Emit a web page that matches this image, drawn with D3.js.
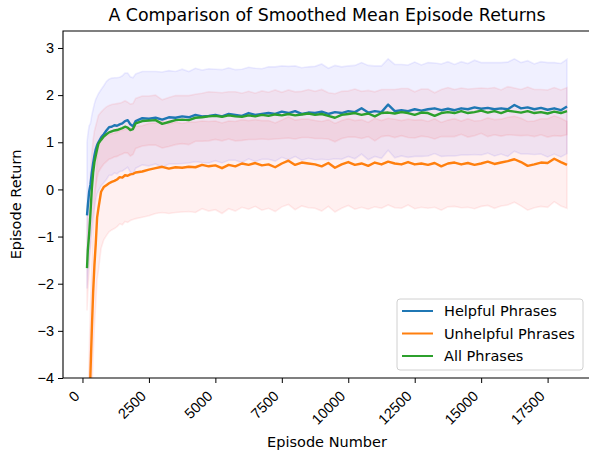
<!DOCTYPE html>
<html><head><meta charset="utf-8">
<script src="https://cdn.jsdelivr.net/npm/d3@7"></script>
<style>body{margin:0;background:#fff}svg{font-family:"DejaVu Sans",sans-serif}</style>
</head><body><svg id="c" width="589" height="453"></svg>
<script>
const episodes = [170,200,250,300,350,400,450,500,550,600,
700,800,900,1000,1100,1200,1300,1400,1500,1600,1700,1800,1900,2000,
2250,2500,2750,3000,3250,3500,3750,4000,4250,4500,4750,5000,5250,5500,5750,6000,
6250,6500,6750,7000,7250,7500,7750,8000,8250,8500,8750,9000,9250,9500,9750,10000,
10250,10500,10750,11000,11250,11500,11750,12000,12250,12500,12750,13000,13250,13500,13750,14000,
14250,14500,14750,15000,15250,15500,15750,16000,16250,16500,16750,17000,17250,17500,17750,18000,18230];

const helpfulMean = [-0.55,-0.35,-0.05,0.10,0.35,0.55,0.72,0.85,0.94,1.00,
1.10,1.17,1.25,1.32,1.33,1.36,1.35,1.38,1.40,1.45,1.47,1.38,1.34,1.45,
1.51,1.50,1.52,1.48,1.53,1.52,1.55,1.53,1.58,1.55,1.56,1.58,1.55,1.60,1.58,1.56,
1.62,1.58,1.60,1.62,1.60,1.65,1.62,1.66,1.60,1.63,1.62,1.65,1.60,1.64,1.62,1.66,
1.64,1.72,1.63,1.66,1.64,1.80,1.66,1.68,1.66,1.70,1.67,1.70,1.72,1.68,1.71,1.68,
1.72,1.70,1.74,1.71,1.73,1.70,1.72,1.70,1.79,1.72,1.74,1.70,1.73,1.69,1.72,1.68,1.76];
const helpfulStd = [1.55,1.50,1.40,1.30,1.22,1.15,1.10,1.06,1.03,1.03,
1.02,1.03,1.04,1.02,1.03,1.01,1.02,1.00,1.01,1.02,1.00,1.01,1.03,1.00,
0.99,1.00,0.98,1.01,0.99,0.98,1.00,0.97,0.99,0.98,1.00,0.97,0.99,0.98,0.96,0.99,
0.97,0.99,0.96,0.98,1.00,0.97,0.99,0.96,0.98,0.97,0.99,1.01,0.97,0.99,0.98,0.96,
0.99,0.97,1.00,0.96,0.98,0.97,0.99,0.97,0.98,1.00,0.97,0.99,0.96,0.98,1.00,0.97,
0.99,0.97,1.00,0.98,0.96,0.99,0.97,1.00,0.98,0.97,0.99,0.96,0.98,1.00,0.97,0.99,1.00];

const unhelpfulMean = [-8.0,-6.5,-5.0,-3.9,-3.0,-2.2,-1.6,-1.15,-0.6,-0.40,
-0.05,0.05,0.09,0.13,0.16,0.18,0.21,0.26,0.25,0.30,0.29,0.32,0.33,0.36,
0.38,0.42,0.45,0.48,0.44,0.47,0.46,0.48,0.47,0.52,0.49,0.51,0.45,0.52,0.49,0.55,
0.52,0.56,0.51,0.53,0.47,0.55,0.61,0.52,0.57,0.55,0.53,0.49,0.56,0.46,0.53,0.58,
0.52,0.55,0.50,0.57,0.53,0.59,0.55,0.53,0.58,0.53,0.55,0.52,0.56,0.49,0.55,0.57,
0.53,0.56,0.52,0.55,0.59,0.54,0.57,0.60,0.64,0.58,0.50,0.53,0.57,0.56,0.65,0.58,0.52];
const unhelpfulStd = [1.60,1.55,1.50,1.45,1.40,1.35,1.30,1.25,1.30,1.32,
1.20,1.12,1.07,1.03,1.02,1.01,1.00,0.99,1.00,0.98,0.99,0.98,0.97,0.98,
0.97,0.98,0.96,0.97,0.95,0.96,0.94,0.95,0.96,0.93,0.95,0.94,0.96,0.93,0.95,0.93,
0.94,0.92,0.95,0.93,0.94,0.92,0.93,0.95,0.92,0.94,0.93,0.95,0.92,0.94,0.93,0.92,
0.94,0.93,0.92,0.94,0.93,0.92,0.94,0.93,0.91,0.94,0.93,0.92,0.94,0.93,0.92,0.93,
0.92,0.94,0.93,0.91,0.93,0.94,0.92,0.93,0.91,0.93,0.94,0.92,0.93,0.94,0.91,0.93,0.92];

const allMean = [-1.67,-1.30,-0.95,-0.50,0.00,0.35,0.58,0.72,0.85,0.97,
1.05,1.12,1.17,1.21,1.23,1.25,1.26,1.28,1.30,1.33,1.31,1.26,1.28,1.40,
1.45,1.46,1.47,1.39,1.43,1.47,1.48,1.47,1.52,1.53,1.55,1.56,1.54,1.57,1.55,1.54,
1.57,1.55,1.58,1.56,1.59,1.57,1.60,1.57,1.59,1.61,1.58,1.60,1.56,1.52,1.58,1.60,
1.62,1.58,1.61,1.55,1.62,1.63,1.61,1.64,1.62,1.58,1.63,1.62,1.56,1.62,1.64,1.62,
1.66,1.62,1.64,1.67,1.63,1.66,1.62,1.67,1.65,1.63,1.66,1.62,1.64,1.61,1.65,1.62,1.66];
const allStd = [0.90,0.88,0.85,0.80,0.75,0.70,0.66,0.63,0.61,0.60,
0.59,0.58,0.58,0.57,0.57,0.56,0.56,0.55,0.55,0.55,0.54,0.55,0.54,0.53,
0.53,0.52,0.53,0.51,0.52,0.52,0.51,0.52,0.50,0.51,0.52,0.50,0.51,0.50,0.52,0.50,
0.51,0.49,0.51,0.50,0.52,0.49,0.51,0.50,0.49,0.51,0.50,0.52,0.49,0.51,0.50,0.49,
0.51,0.50,0.49,0.52,0.50,0.49,0.51,0.50,0.52,0.49,0.50,0.51,0.49,0.50,0.52,0.50,
0.49,0.51,0.50,0.48,0.51,0.50,0.49,0.51,0.50,0.49,0.51,0.50,0.48,0.50,0.51,0.49,0.50];

const seriesNames = ["Helpful Phrases","Unhelpful Phrases","All Phrases"];
const xTicks = [0,2500,5000,7500,10000,12500,15000,17500];
const yTicks = [-4,-3,-2,-1,0,1,2,3];
const titleText = "A Comparison of Smoothed Mean Episode Returns";
const xLabel = "Episode Number", yLabel = "Episode Return";

const series = [
  {name:seriesNames[0], mean:helpfulMean, std:helpfulStd, color:"#1f77b4", band:"#0000ff"},
  {name:seriesNames[1], mean:unhelpfulMean, std:unhelpfulStd, color:"#ff7f0e", band:"#ff0000"},
  {name:seriesNames[2], mean:allMean, std:allStd, color:"#2ca02c", band:"#ff0000"}
];

const L=63, R=591, T=31, B=378;
const svg = d3.select("#c");
const ext = d3.extent(episodes), pad=(ext[1]-ext[0])*0.05;
const x = d3.scaleLinear().domain([ext[0]-pad, ext[1]+pad]).range([L,R]);
const y = d3.scaleLinear().domain([-4, 3.36]).range([B,T]);

svg.append("defs").append("clipPath").attr("id","clip")
  .append("rect").attr("x",L).attr("y",T).attr("width",R-L).attr("height",B-T);
const g = svg.append("g").attr("clip-path","url(#clip)");

series.forEach(s=>{
  const area = d3.area().x((d,i)=>x(episodes[i])).y0((d,i)=>y(s.mean[i]-s.std[i])).y1((d,i)=>y(s.mean[i]+s.std[i]));
  g.append("path").attr("d",area(s.mean)).attr("fill",s.band).attr("fill-opacity",0.06)
   .attr("stroke",s.band).attr("stroke-opacity",0.07).attr("stroke-width",1.6);
});
series.forEach(s=>{
  const line = d3.line().x((d,i)=>x(episodes[i])).y(d=>y(d));
  g.append("path").attr("d",line(s.mean)).attr("fill","none").attr("stroke",s.color)
   .attr("stroke-width",2.4).attr("stroke-linejoin","round");
});

// axes
const fmt = v => String(v).replace("-","\u2212");
const xa = svg.append("g").attr("transform",`translate(0,${B})`)
  .call(d3.axisBottom(x).tickValues(xTicks).tickSize(5).tickFormat(d=>d));
xa.select(".domain").remove();
xa.selectAll("line").attr("stroke","#000").attr("stroke-width",1);
xa.selectAll("text").attr("font-size",14.5).attr("fill","#000").attr("text-anchor","end")
  .attr("x",0).attr("y",0).attr("dy",0)
  .attr("transform","translate(-2.5,19) rotate(-45)");
const ya = svg.append("g").attr("transform",`translate(${L},0)`)
  .call(d3.axisLeft(y).tickValues(yTicks).tickSize(5).tickPadding(4).tickFormat(fmt));
ya.select(".domain").remove();
ya.selectAll("line").attr("stroke","#000").attr("stroke-width",1);
ya.selectAll("text").attr("font-size",14.5).attr("fill","#000");

// spines
svg.append("path").attr("d",`M${L},${B}V${T}H${R}V${B}Z`).attr("fill","none").attr("stroke","#000").attr("stroke-width",1.1);

svg.append("text").attr("x",(L+R)/2).attr("y",21).attr("text-anchor","middle").attr("font-size",17.4).text(titleText);
svg.append("text").attr("x",(L+R)/2).attr("y",447).attr("text-anchor","middle").attr("font-size",14.5).text(xLabel);
svg.append("text").attr("transform",`translate(21,${(T+B)/2}) rotate(-90)`).attr("text-anchor","middle").attr("font-size",14.5).text(yLabel);

// legend
const lg = svg.append("g");
lg.append("rect").attr("x",397).attr("y",299).attr("width",186).attr("height",71).attr("rx",3)
  .attr("fill","#fff").attr("fill-opacity",0.8).attr("stroke","#d0d0d0").attr("stroke-width",1);
series.forEach((s,i)=>{
  const yy = 311 + i*22.5;
  lg.append("line").attr("x1",402).attr("x2",433).attr("y1",yy).attr("y2",yy).attr("stroke",s.color).attr("stroke-width",2);
  lg.append("text").attr("x",444).attr("y",yy+5).attr("font-size",14.5).text(s.name);
});
</script></body></html>
